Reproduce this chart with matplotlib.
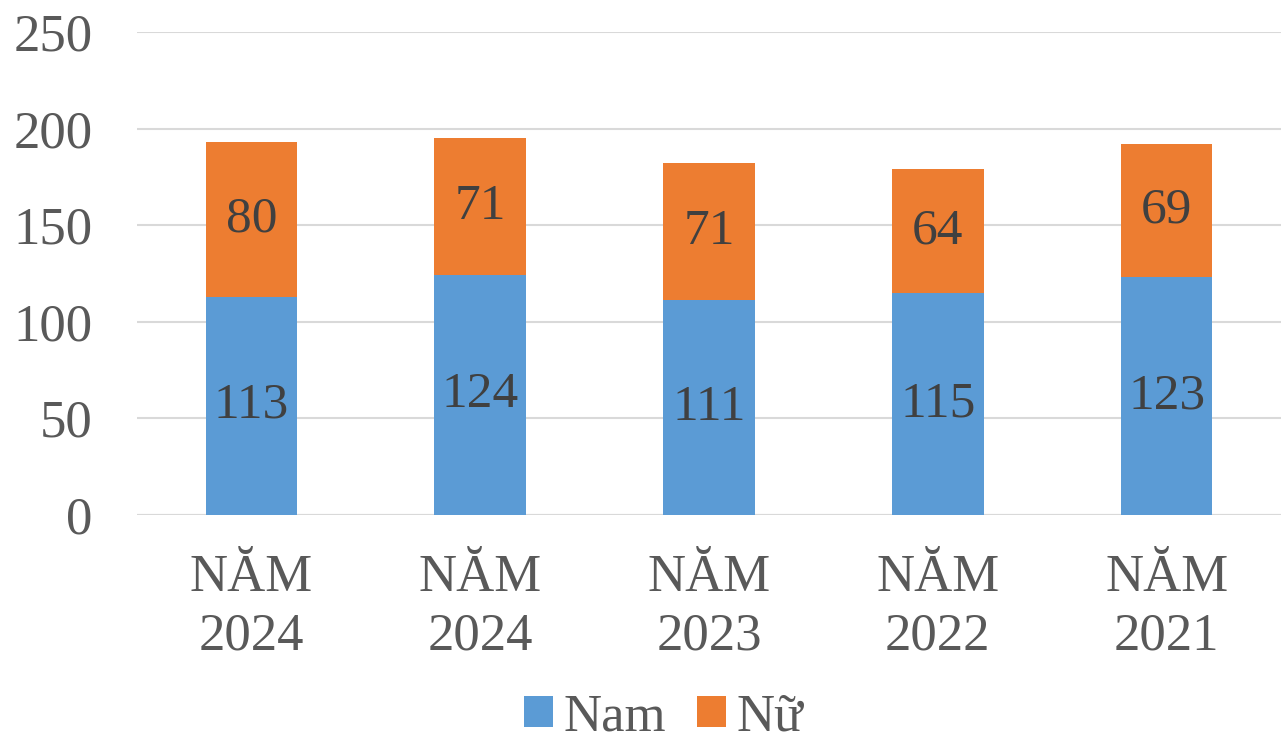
import numpy as np
import matplotlib.pyplot as plt

plt.rcParams['font.family'] = ['Liberation Serif', 'DejaVu Serif']

categories = ['NĂM\n2024', 'NĂM\n2024', 'NĂM\n2023', 'NĂM\n2022', 'NĂM\n2021']
nam = [113, 124, 111, 115, 123]
nu = [80, 71, 71, 64, 69]

blue = '#5B9BD5'
orange = '#ED7D31'
txt = '#595959'

fig = plt.figure(figsize=(12.81, 7.44), dpi=100)
ax = fig.add_axes([0.107, 0.308, 0.893, 0.649])

x = np.arange(len(categories))
w = 0.4
b1 = ax.bar(x, nam, w, color=blue, label='Nam', zorder=3)
b2 = ax.bar(x, nu, w, bottom=nam, color=orange, label='Nữ', zorder=3)

for i in range(len(x)):
    ax.text(x[i], nam[i] / 2, str(nam[i]), ha='center', va='center',
            fontsize=37, color='#404040', zorder=4)
    ax.text(x[i], nam[i] + nu[i] / 2, str(nu[i]), ha='center', va='center',
            fontsize=37, color='#404040', zorder=4)

ax.set_ylim(0, 250)
ax.set_xlim(-0.5, 4.5)
ax.set_yticks(range(0, 251, 50))
ax.set_xticks(x)
ax.set_xticklabels(categories, linespacing=1.3)
ax.tick_params(axis='both', length=0, labelsize=38, colors=txt)
ax.tick_params(axis='x', pad=28)
ax.tick_params(axis='y', pad=32)
ax.grid(axis='y', color='#D9D9D9', linewidth=1.5, zorder=0)
for s in ax.spines.values():
    s.set_visible(False)
ax.axhline(0, color='#D9D9D9', linewidth=1.5, zorder=2)

fig.legend(handles=[b1, b2], loc='lower center', bbox_to_anchor=(0.518, -0.06),
           ncol=2, frameon=False, fontsize=38, labelcolor=txt,
           handlelength=0.55, handleheight=0.55, handletextpad=0.2, columnspacing=0.6)

fig.savefig('out.png', dpi=100)
